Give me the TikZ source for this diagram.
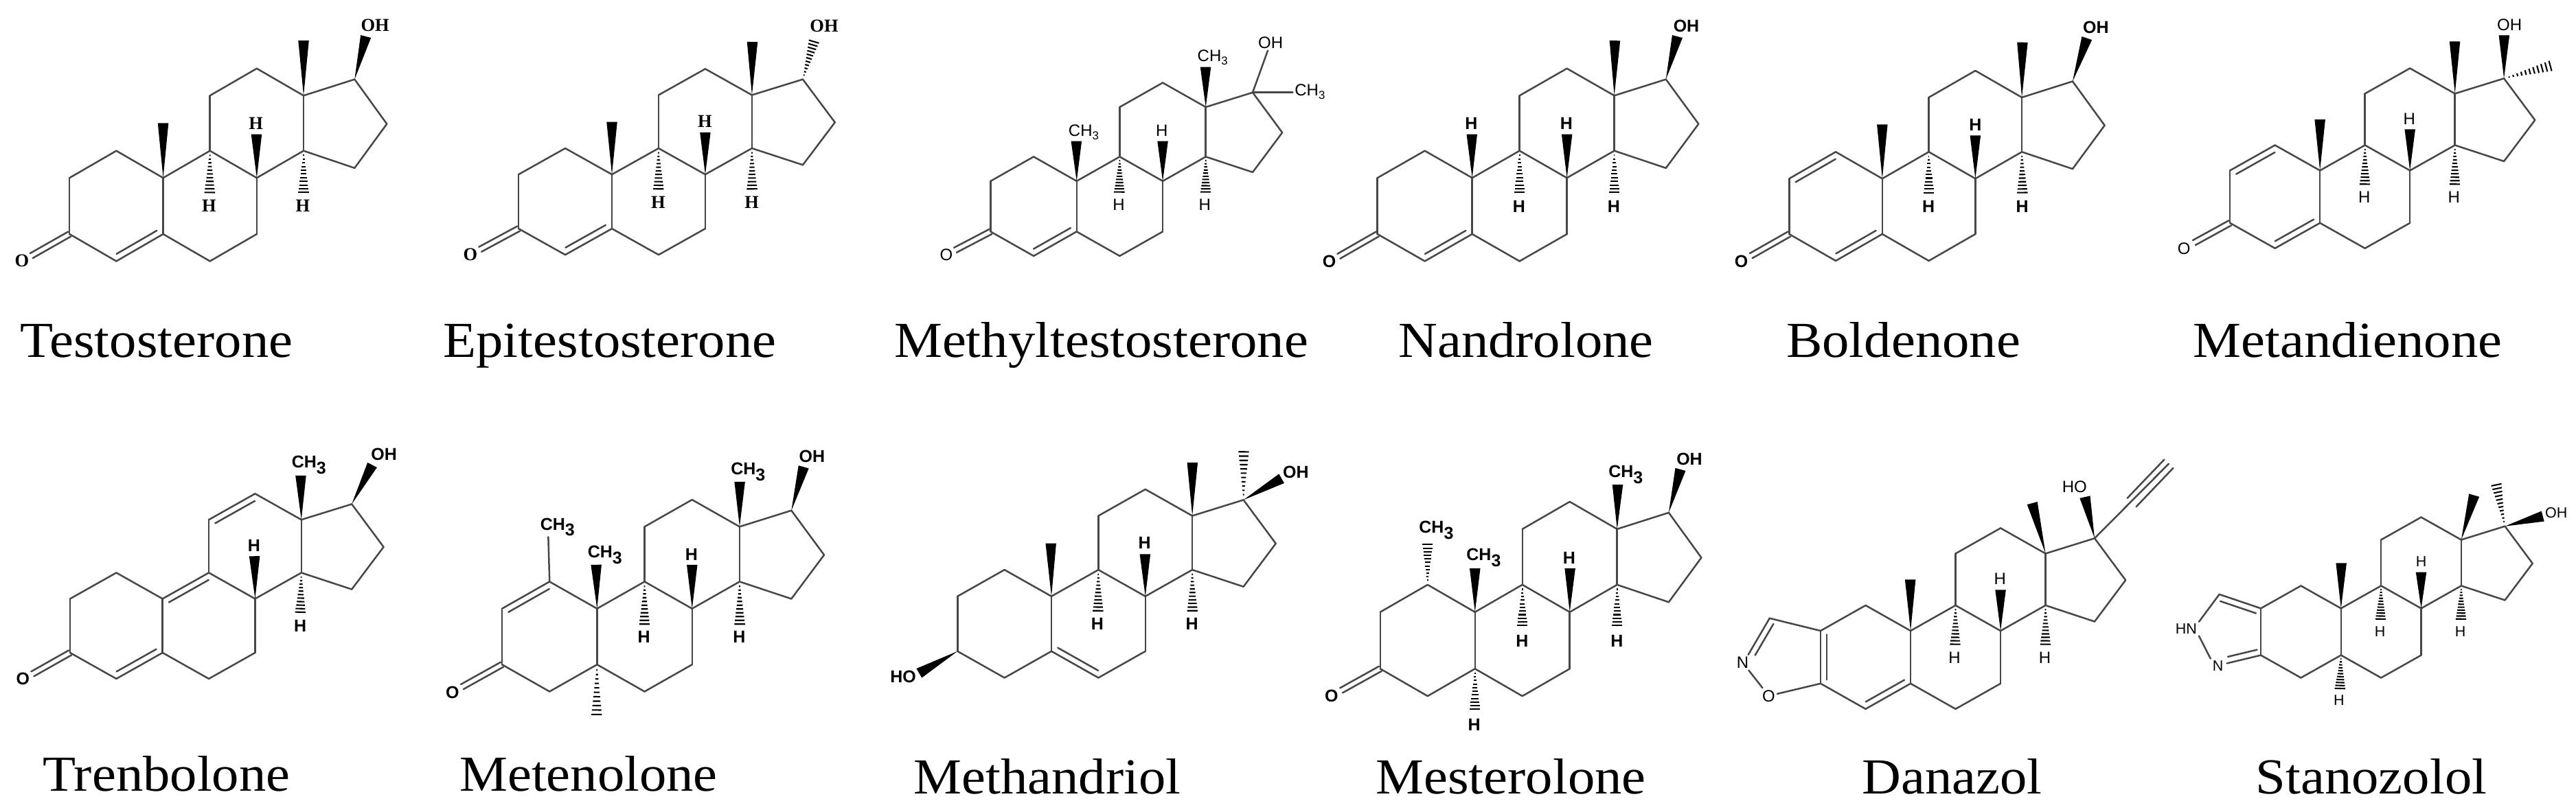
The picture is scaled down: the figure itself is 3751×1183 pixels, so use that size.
\documentclass[tikz,border=0pt]{standalone}
\usepackage{fontspec}
\setmainfont{Liberation Serif}
\newfontfamily\namefont[FakeStretch=1.07]{Liberation Serif}
\newfontfamily\atomfont{Liberation Sans}
\usetikzlibrary{calc}
\newcommand{\chthree}{CH\textsubscript{3}}
\tikzset{
  bond/.style={line width=.5pt,draw=black!72,line cap=round},
  hashline/.style={line width=.42pt,draw=black},
  drugname/.style={anchor=base,inner sep=0pt,font=\namefont\fontsize{14.7}{16}\selectfont},
  serifatom/.style={inner sep=.4pt,font=\bfseries\fontsize{5.3}{6}\selectfont},
  boldatom/.style={inner sep=.4pt,font=\atomfont\bfseries\fontsize{5}{6}\selectfont},
  thinatom/.style={inner sep=.4pt,font=\atomfont\fontsize{4.8}{6}\selectfont},
  smallatom/.style={inner sep=.4pt,font=\atomfont\fontsize{4.3}{6}\selectfont},
  molecule/.style n args={3}{name prefix=#1-,shift={(#2,#3)},x=.08163pt,y=-.07179pt}
}
\newcommand{\steroidring}[4]{%
  \begin{scope}[shift={(#1,#2)},xscale=#3/167,yscale=#4/228]
    \foreach \atomname/\ax/\ay in {C1/-167/-110,C2/-334/0,C3/-334/228,C4/-167/338,C5/0/228,
        C6/167/338,C7/334/228,C8/334/0,C9/167/-110,C10/0/0,C11/167/-334,C12/334/-444,
        C13/501/-334,C14/501/-110,C15/683/-40,C16/798/-219,C17/683/-400}
      \coordinate (\atomname) at (\ax,\ay);
  \end{scope}
  \foreach \ba/\bb in {C1/C2,C2/C3,C3/C4,C4/C5,C5/C10,C10/C1,C5/C6,C6/C7,C7/C8,C8/C9,C9/C10,
      C9/C11,C11/C12,C12/C13,C13/C14,C14/C8,C14/C15,C15/C16,C16/C17,C17/C13}
    \draw[bond] (\ba) -- (\bb);
}
\newcommand{\innerline}[2]{%
  \draw[bond] ($(#1)!.07!(#2)!1.8pt!90:(#2)$) -- ($(#2)!.07!(#1)!1.8pt!-90:(#1)$);
}
\newcommand{\sidelines}[3]{%
  \draw[bond] ($(#1)!#3!90:(#2)$) -- ($(#2)!#3!-90:(#1)$);
  \draw[bond] ($(#1)!#3!-90:(#2)$) -- ($(#2)!#3!90:(#1)$);
}
\newcommand{\twinto}[3]{%
  \coordinate (#2) at (#3);
  \sidelines{#1}{#2}{.8pt}
}
\newcommand{\wedgeto}[3]{%
  \coordinate (#2) at (#3);
  \fill[black] (#1) -- ($(#2)!1.55pt!90:(#1)$) -- ($(#2)!1.55pt!-90:(#1)$) -- cycle;
}
\newcommand{\hashto}[3]{%
  \coordinate (#2) at (#3);
  \foreach \hashpos in {.1,.18,.26,.34,.42,.5,.58,.66,.74,.82,.9,1}
    \draw[hashline] ($(#1)!\hashpos!(#2)!\hashpos*1.7pt!90:(#2)$) -- ($(#1)!\hashpos!(#2)!\hashpos*1.7pt!-90:(#2)$);
}
\begin{document}
\begin{tikzpicture}[x=.2pt,y=-.2pt]
  \useasboundingbox (0,0) rectangle (3751,1183);

  \begin{scope}[molecule={tes}{0}{0}]
    \steroidring{582}{722}{167}{228}
    \innerline{C4}{C5}
    \wedgeto{C10}{M10}{582,500}
    \wedgeto{C13}{M13}{1083,165}
    \wedgeto{C8}{T8}{915,545}
    \hashto{C9}{T9}{748,800}
    \hashto{C14}{T14}{1083,800}
    \wedgeto{C17}{T17}{1305,148}
    \twinto{C3}{T3}{112,1038}
    \node[serifatom] (H8) at (913,500) {H};
    \node[serifatom] (H9) at (746,835) {H};
    \node[serifatom] (H14) at (1080,835) {H};
    \node[serifatom] (OH) at (1338,103) {OH};
    \node[serifatom] (O) at (78,1057) {O};
  \end{scope}

  \begin{scope}[molecule={epi}{640}{0}]
    \steroidring{615}{708}{166.5}{220}
    \innerline{C4}{C5}
    \wedgeto{C10}{M10}{615,495}
    \wedgeto{C13}{M13}{1116,170}
    \wedgeto{C8}{T8}{948,537}
    \hashto{C9}{T9}{781,785}
    \hashto{C14}{T14}{1115,785}
    \hashto{C17}{T17}{1340,152}
    \twinto{C3}{T3}{145,1012}
    \node[serifatom] (H8) at (947,492) {H};
    \node[serifatom] (H9) at (780,820) {H};
    \node[serifatom] (H14) at (1114,820) {H};
    \node[serifatom] (OH) at (1372,106) {OH};
    \node[serifatom] (O) at (110,1033) {O};
  \end{scope}

  \begin{scope}[molecule={mte}{1280}{0}]
    \steroidring{705}{735}{153.5}{205}
    \innerline{C4}{C5}
    \wedgeto{C10}{M10}{704,573}
    \wedgeto{C13}{M13}{1165,272}
    \wedgeto{C8}{T8}{1012,573}
    \hashto{C9}{T9}{857,795}
    \hashto{C14}{T14}{1165,795}
    \twinto{C3}{T3}{272,1015}
    \node[thinatom] (Me10) at (733,537) {\chthree};
    \node[thinatom] (Me13) at (1193,232) {\chthree};
    \node[thinatom] (H8) at (1009,530) {H};
    \node[thinatom] (H9) at (855,832) {H};
    \node[thinatom] (H14) at (1162,832) {H};
    \node[thinatom] (OH) at (1397,173) {OH};
    \node[thinatom] (Me17) at (1540,372) {\chthree};
    \node[thinatom] (O) at (240,1035) {O};
    \draw[bond] (C17) -- (OH);
    \draw[bond] (C17) -- (Me17.west |- C17);
  \end{scope}

  \begin{scope}[molecule={nan}{1920}{0}]
    \steroidring{548}{722}{169}{228}
    \innerline{C4}{C5}
    \wedgeto{C10}{T10}{547,545}
    \wedgeto{C13}{M13}{1057,165}
    \wedgeto{C8}{T8}{886,545}
    \hashto{C9}{T9}{717,800}
    \hashto{C14}{T14}{1055,800}
    \wedgeto{C17}{T17}{1280,148}
    \twinto{C3}{T3}{72,1040}
    \node[boldatom] (H10) at (545,502) {H};
    \node[boldatom] (H8) at (884,502) {H};
    \node[boldatom] (H9) at (715,838) {H};
    \node[boldatom] (H14) at (1053,838) {H};
    \node[boldatom] (OH) at (1312,105) {OH};
    \node[boldatom] (O) at (38,1060) {O};
  \end{scope}

  \begin{scope}[molecule={bol}{2500}{0}]
    \steroidring{590}{725}{166}{225}
    \innerline{C4}{C5}
    \innerline{C1}{C2}
    \wedgeto{C10}{M10}{590,505}
    \wedgeto{C13}{M13}{1090,172}
    \wedgeto{C8}{T8}{922,550}
    \hashto{C9}{T9}{756,800}
    \hashto{C14}{T14}{1090,800}
    \wedgeto{C17}{T17}{1320,155}
    \twinto{C3}{T3}{122,1038}
    \node[boldatom] (H8) at (922,507) {H};
    \node[boldatom] (H9) at (755,838) {H};
    \node[boldatom] (H14) at (1089,838) {H};
    \node[boldatom] (OH) at (1352,112) {OH};
    \node[boldatom] (O) at (87,1060) {O};
  \end{scope}

  \begin{scope}[molecule={mdi}{3110}{0}]
    \steroidring{657}{692}{160.5}{213}
    \innerline{C4}{C5}
    \innerline{C1}{C2}
    \wedgeto{C10}{M10}{657,485}
    \wedgeto{C13}{M13}{1138,168}
    \wedgeto{C8}{T8}{978,525}
    \hashto{C9}{T9}{817,765}
    \hashto{C14}{T14}{1138,765}
    \wedgeto{C17}{T17}{1314,143}
    \hashto{C17}{M17}{1497,262}
    \twinto{C3}{T3}{208,985}
    \node[thinatom] (H8) at (976,482) {H};
    \node[thinatom] (H9) at (815,800) {H};
    \node[thinatom] (H14) at (1135,800) {H};
    \node[thinatom] (OH) at (1333,100) {OH};
    \node[thinatom] (O) at (172,1008) {O};
  \end{scope}

  \begin{scope}[molecule={tre}{0}{620}]
    \steroidring{580}{703}{165}{219}
    \innerline{C4}{C5}
    \innerline{C9}{C10}
    \innerline{C12}{C11}
    \wedgeto{C13}{M13}{1073,203}
    \wedgeto{C8}{T8}{908,530}
    \hashto{C14}{T14}{1071,775}
    \wedgeto{C17}{T17}{1328,160}
    \twinto{C3}{T3}{116,1008}
    \node[boldatom] (Me13) at (1105,160) {\chthree};
    \node[boldatom] (H8) at (906,487) {H};
    \node[boldatom] (H14) at (1071,812) {H};
    \node[boldatom] (OH) at (1370,118) {OH};
    \node[boldatom] (O) at (82,1027) {O};
  \end{scope}

  \begin{scope}[molecule={men}{620}{620}]
    \steroidring{611}{743}{169.5}{227}
    \innerline{C1}{C2}
    \wedgeto{C10}{T10}{608,565}
    \wedgeto{C13}{M13}{1120,228}
    \wedgeto{C8}{T8}{950,565}
    \hashto{C9}{T9}{780,825}
    \hashto{C14}{T14}{1120,825}
    \wedgeto{C17}{T17}{1348,168}
    \hashto{C5}{M5}{609,1195}
    \twinto{C3}{T3}{130,1060}
    \coordinate (T1) at (437,452);
    \draw[bond] (C1) -- (T1);
    \node[boldatom] (Me1) at (473,412) {\chthree};
    \node[boldatom] (Me10) at (642,525) {\chthree};
    \node[boldatom] (Me13) at (1153,188) {\chthree};
    \node[boldatom] (H8) at (948,523) {H};
    \node[boldatom] (H9) at (778,858) {H};
    \node[boldatom] (H14) at (1118,858) {H};
    \node[boldatom] (OH) at (1378,124) {OH};
    \node[boldatom] (O) at (95,1082) {O};
  \end{scope}

  \begin{scope}[molecule={mad}{1260}{620}]
    \steroidring{664}{693}{167.5}{223}
    \innerline{C5}{C6}
    \wedgeto{C10}{M10}{662,478}
    \wedgeto{C13}{M13}{1167,150}
    \wedgeto{C8}{T8}{998,522}
    \hashto{C9}{T9}{830,770}
    \hashto{C14}{T14}{1167,770}
    \hashto{C17}{M17}{1350,85}
    \wedgeto{C17}{T17}{1485,215}
    \wedgeto{C3}{T3}{192,1005}
    \node[boldatom] (H8) at (996,475) {H};
    \node[boldatom] (H9) at (828,805) {H};
    \node[boldatom] (H14) at (1165,805) {H};
    \node[boldatom] (OH) at (1536,188) {OH};
    \node[boldatom] (HO) at (135,1020) {HO};
  \end{scope}

  \begin{scope}[molecule={mes}{1900}{620}]
    \steroidring{607}{757}{169}{230}
    \wedgeto{C10}{T10}{607,580}
    \wedgeto{C13}{M13}{1116,240}
    \wedgeto{C8}{T8}{946,580}
    \hashto{C9}{T9}{776,830}
    \hashto{C14}{T14}{1114,830}
    \wedgeto{C17}{T17}{1340,178}
    \hashto{C1}{T1}{438,465}
    \hashto{C5}{T5}{607,1170}
    \twinto{C3}{T3}{130,1075}
    \node[boldatom] (Me1) at (472,425) {\chthree};
    \node[boldatom] (Me10) at (641,537) {\chthree};
    \node[boldatom] (Me13) at (1148,198) {\chthree};
    \node[boldatom] (H8) at (943,537) {H};
    \node[boldatom] (H9) at (775,875) {H};
    \node[boldatom] (H14) at (1113,875) {H};
    \node[boldatom] (H5) at (604,1215) {H};
    \node[boldatom] (OH) at (1372,135) {OH};
    \node[boldatom] (O) at (95,1098) {O};
  \end{scope}

  \begin{scope}[molecule={dan}{2500}{620}]
    \steroidring{691}{833}{160.5}{214}
    \innerline{C4}{C5}
    \innerline{C2}{C3}
    \wedgeto{C10}{M10}{690,625}
    \wedgeto{C13}{M13}{1125,315}
    \wedgeto{C8}{T8}{1012,667}
    \hashto{C9}{T9}{850,905}
    \hashto{C14}{T14}{1172,905}
    \wedgeto{C17}{T17}{1313,290}
    \coordinate (CCa) at (1480,312);
    \coordinate (CCb) at (1612,155);
    \draw[bond] (C17) -- (CCb);
    \sidelines{CCa}{CCb}{1.8pt}
    \coordinate (CH) at (188,782);
    \coordinate (Nt) at (112,930);
    \node[thinatom] (H8) at (1010,622) {H};
    \node[thinatom] (H9) at (848,942) {H};
    \node[thinatom] (H14) at (1170,942) {H};
    \node[thinatom] (HO) at (1276,248) {HO};
    \node[thinatom] (N) at (92,962) {N};
    \node[thinatom] (O) at (185,1097) {O};
    \draw[bond] (C2) -- (CH);
    \draw[bond] (CH) -- (Nt);
    \innerline{CH}{Nt}
    \draw[bond] (N) -- (O);
    \draw[bond] (O) -- (C3);
  \end{scope}

  \begin{scope}[molecule={sta}{3110}{620}]
    \steroidring{732}{742}{143}{190}
    \wedgeto{C10}{M10}{733,558}
    \wedgeto{C13}{M13}{1207,283}
    \wedgeto{C8}{T8}{1018,595}
    \hashto{C9}{T9}{873,800}
    \hashto{C14}{T14}{1160,800}
    \hashto{C5}{T5}{728,1082}
    \hashto{C17}{M17}{1283,222}
    \wedgeto{C17}{T17}{1452,368}
    \node[smallatom] (H8) at (1018,553) {H};
    \node[smallatom] (H9) at (871,835) {H};
    \node[smallatom] (H14) at (1158,835) {H};
    \node[smallatom] (H5) at (725,1115) {H};
    \node[smallatom] (OH) at (1500,355) {OH};
    \node[smallatom] (HN) at (180,825) {HN};
    \node[smallatom] (N) at (293,975) {N};
    \coordinate (CH) at (298,685);
    \coordinate (Nt) at (325,965);
    \draw[bond] (C2) -- (CH);
    \innerline{C2}{CH}
    \draw[bond] (CH) -- (HN.north east);
    \draw[bond] (HN.south east) -- (N.north west);
    \draw[bond] (Nt) -- (C3);
    \innerline{Nt}{C3}
  \end{scope}

  \node[drugname] (testosterone) at (228,520.5) {Testosterone};
  \node[drugname] (epitestosterone) at (888,520.5) {Epitestosterone};
  \node[drugname] (methyltestosterone) at (1603.5,520.5) {Methyltestosterone};
  \node[drugname] (nandrolone) at (2222,520.5) {Nandrolone};
  \node[drugname] (boldenone) at (2771.5,520.5) {Boldenone};
  \node[drugname] (metandienone) at (3418.5,520.5) {Metandienone};
  \node[drugname] (trenbolone) at (242.5,1153) {Trenbolone};
  \node[drugname] (metenolone) at (857,1153) {Metenolone};
  \node[drugname] (methandriol) at (1525,1157) {Methandriol};
  \node[drugname] (mesterolone) at (2200,1156.5) {Mesterolone};
  \node[drugname] (danazol) at (2842.5,1156.5) {Danazol};
  \node[drugname] (stanozolol) at (3453,1156.5) {Stanozolol};
\end{tikzpicture}
\end{document}
